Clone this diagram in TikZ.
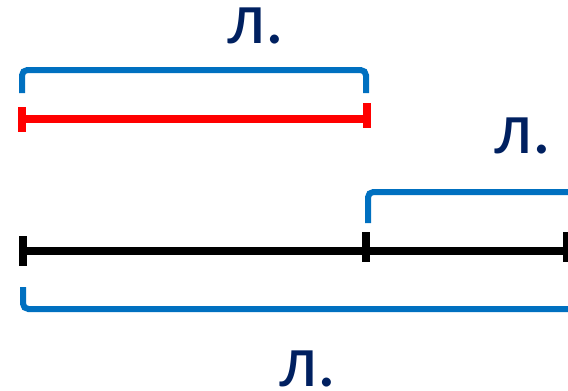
\documentclass[tikz,border=0pt]{standalone}
\usepackage{fontspec}
\setmainfont{Carlito}
\definecolor{bracketblue}{HTML}{0070C0}
\definecolor{labelnavy}{HTML}{002060}
\definecolor{segred}{HTML}{FF0000}
\begin{document}
\begin{tikzpicture}[x=0.75pt,y=-0.75pt,
  bracket/.style={draw=bracketblue,line width=4.5pt,rounded corners=4pt},
  segline/.style={line width=6pt},
  tickmark/.style={line width=6pt},
  lbl/.style={text=labelnavy,inner sep=0pt,font=\fontsize{56}{60}\selectfont}]
\useasboundingbox (0,0) rectangle (568,390);
% labels
\node[lbl] (l1) at (256,26) {л.};
\node[lbl] (l2) at (523,136) {л.};
\node[lbl] (l3) at (308,369) {л.};
% top bracket
\coordinate (b1a) at (22,93);
\coordinate (b1b) at (366,93);
\draw[bracket] (b1a) -- (22,70) -- (366,70) -- (b1b);
% red segment
\coordinate (r1) at (22,119);
\coordinate (r2) at (367,119);
\draw[segline,segred] (r1) -- (r2);
\draw[tickmark,segred] (22,107) -- (22,132);
\draw[tickmark,segred] (367,103) -- (367,128);
% right bracket
\coordinate (b2a) at (368,223);
\draw[bracket] (b2a) -- (368,192) -- (572,192);
% black segment
\coordinate (k1) at (23,251);
\coordinate (k2) at (366,251);
\coordinate (k3) at (567,251);
\draw[segline,black] (k1) -- (k2) -- (k3);
\draw[tickmark,black] (23,236) -- (23,266);
\draw[tickmark,black] (366,232) -- (366,262);
\draw[tickmark,black] (567,232) -- (567,262);
% bottom bracket
\coordinate (b3a) at (23,287);
\draw[bracket] (b3a) -- (23,309) -- (572,309);
\end{tikzpicture}
\end{document}
